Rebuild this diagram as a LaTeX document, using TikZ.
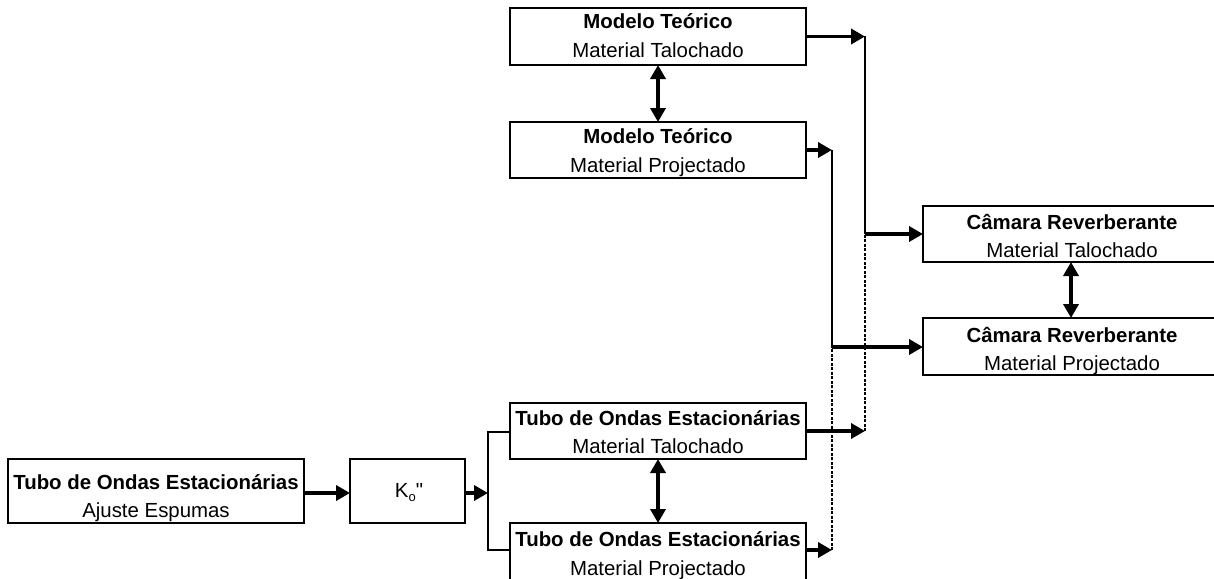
\documentclass[tikz,border=0pt]{standalone}
\usepackage{fontspec}
\setmainfont{Liberation Sans}
\newfontfamily\qfont{Liberation Sans}
\usetikzlibrary{arrows.meta}
\tikzset{
  box/.style={draw, line width=1.5pt, rectangle, inner sep=0pt, outer sep=0pt},
  ttl/.style={anchor=base, inner sep=0pt, font=\fontsize{20.4}{24}\selectfont\bfseries},
  sub/.style={anchor=base, inner sep=0pt, font=\fontsize{20.4}{24}\selectfont},
  arr/.style={line width=3.6pt, -{Triangle[length=14pt,width=15pt]}},
  darr/.style={line width=3.6pt, {Triangle[length=14pt,width=15pt]}-{Triangle[length=14pt,width=15pt]}},
  thinline/.style={line width=1.6pt},
  dotline/.style={line width=2.8pt, dash pattern=on 3pt off 1.5pt}
}
\begin{document}
\begin{tikzpicture}[x=1pt,y=-1pt]
\useasboundingbox (0,0) rectangle (1214,578);
\clip (0,0) rectangle (1214,578);
% boxes
\node[box, minimum width=296pt, minimum height=57pt] (mt1) at (658,36.5) {};
\node[box, minimum width=296pt, minimum height=56pt] (mt2) at (658,150) {};
\node[box, minimum width=298pt, minimum height=56pt] (cr1) at (1072,234) {};
\node[box, minimum width=298pt, minimum height=57pt] (cr2) at (1072,346.5) {};
\node[box, minimum width=296pt, minimum height=64pt] (toe0) at (156,491) {};
\node[box, minimum width=115pt, minimum height=64pt] (ko) at (407.5,491) {};
\node[box, minimum width=296pt, minimum height=56pt] (toe1) at (658,431) {};
\node[box, minimum width=296pt, minimum height=60pt] (toe2) at (658,553) {};
% texts
\node[ttl] (mt1a) at (658,29) {Modelo Teórico};
\node[sub] (mt1b) at (658,58) {Material Talochado};
\node[ttl] (mt2a) at (658,143) {Modelo Teórico};
\node[sub] (mt2b) at (658,172) {Material Projectado};
\node[ttl] (cr1a) at (1072,229) {Câmara Reverberante};
\node[sub] (cr1b) at (1072,257) {Material Talochado};
\node[ttl] (cr2a) at (1072,342) {Câmara Reverberante};
\node[sub] (cr2b) at (1072,370) {Material Projectado};
\node[ttl] (toe0a) at (156,489) {Tubo de Ondas Estacionárias};
\node[sub] (toe0b) at (156,517) {Ajuste Espumas};
\node[sub] (koa) at (409,497) {K\raisebox{-4pt}{\fontsize{13}{13}\selectfont o}{\qfont"}};
\node[ttl] (toe1a) at (658,425) {Tubo de Ondas Estacionárias};
\node[sub] (toe1b) at (658,453) {Material Talochado};
\node[ttl] (toe2a) at (658,546) {Tubo de Ondas Estacionárias};
\node[sub] (toe2b) at (658,575) {Material Projectado};
% junction coordinates
\coordinate (a1) at (865,234);
\coordinate (a2) at (832,347);
\coordinate (br) at (488,491);
% left chain
\draw[arr] ([yshift=-2pt]toe0.east) -- ([yshift=-2pt]ko.west);
\draw[arr] ([yshift=-2pt]ko.east) -- ([yshift=-2pt]br);
\draw[thinline] (toe1.west |- 0,432) -- (488,432) -- (488,550) -- (toe2.west |- 0,550);
% double arrows
\draw[darr] (mt1.south) -- (mt2.north);
\draw[darr] (toe1.south) -- (toe2.north);
\draw[darr] (cr1.south -| 1071,0) -- (cr2.north -| 1071,0);
% to reverberant chamber
\draw[arr] (mt1.east) -- (mt1.east -| a1);
\draw[thinline] (mt1.east -| a1) -- (a1);
\draw[arr] (mt2.east) -- (mt2.east -| a2);
\draw[thinline] (mt2.east -| a2) -- (a2);
\draw[arr] (a1) -- (a1 -| cr1.west);
\draw[arr] (a2) -- (a2 -| cr2.west);
\draw[arr] (toe1.east) -- (toe1.east -| a1);
\draw[dotline] (toe1.east -| a1) -- (a1);
\draw[arr] (toe2.east |- 0,550) -- (832,550);
\draw[dotline] (832,550) -- (a2);
\end{tikzpicture}
\end{document}
